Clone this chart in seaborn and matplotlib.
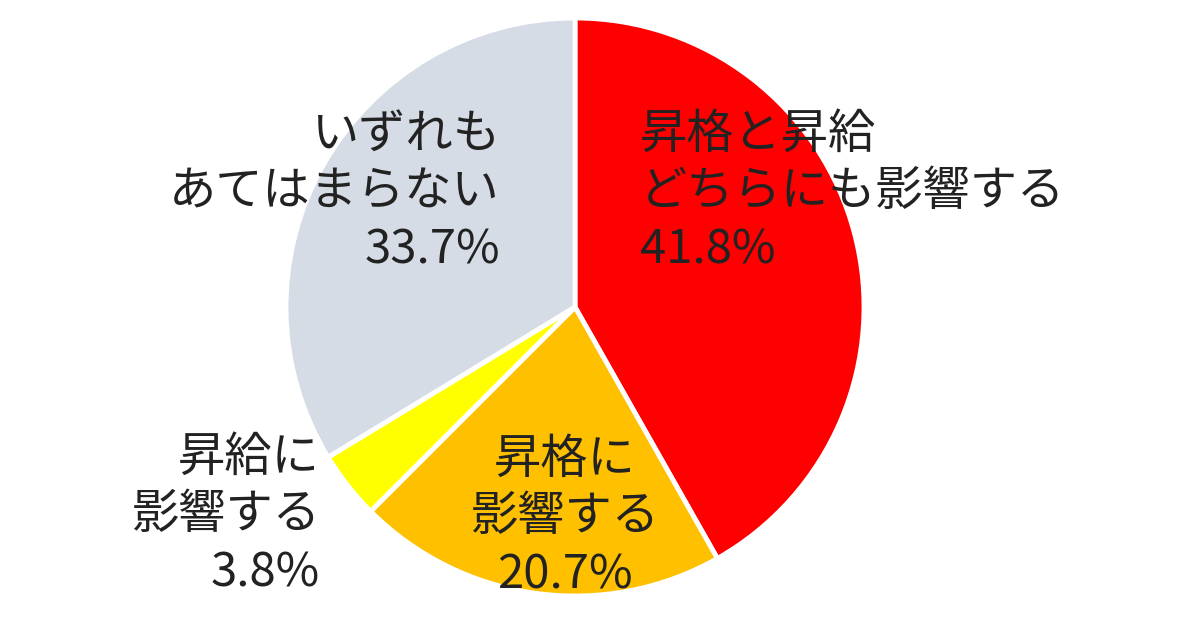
import matplotlib
matplotlib.use("Agg")
import matplotlib.pyplot as plt
import seaborn as sns

labels = ["昇格と昇給\nどちらにも影響する", "昇格に\n影響する", "昇給に\n影響する", "いずれも\nあてはまらない"]
values = [41.8, 20.7, 3.8, 33.7]
colors = ["#FF0000", "#FFC000", "#FFFF00", "#D6DCE5"]

sns.set_theme(style="white")
plt.rcParams["font.family"] = ["Noto Sans CJK JP", "DejaVu Sans"]

fig = plt.figure(figsize=(12, 6.3), dpi=100)
ax = fig.add_axes([0, 0, 1, 1])
ax.set_xlim(0, 1200)
ax.set_ylim(0, 630)
ax.set_aspect("equal")
ax.axis("off")

cx, cy, r = 575, 323, 289
ax.pie(values, colors=sns.color_palette(colors), startangle=90, counterclock=False,
       center=(cx, cy), radius=r,
       wedgeprops=dict(edgecolor="white", linewidth=3.5))
ax.set_xlim(0, 1200)
ax.set_ylim(0, 630)

# label placement (position, alignment)
place = [(640, 438, "left"), (565, 113, "center"), (320, 115, "right"), (500, 438, "right")]
for lab, v, (x, y, ha) in zip(labels, values, place):
    ax.text(x, y, f"{lab}\n{v:.1f}%", ha=ha, va="center", fontsize=34,
            color="#222222", linespacing=1.25, multialignment=ha)

fig.savefig("out.png", dpi=100)
